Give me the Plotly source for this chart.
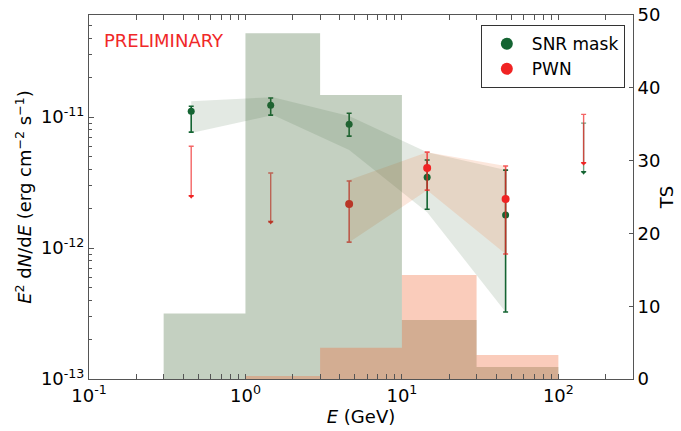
import plotly.graph_objects as go

# ---------------- data ----------------
# SNR mask spectral points
snr_E = [0.45, 1.45, 4.6, 14.5, 46.0]
snr_F = [1.11e-11, 1.235e-11, 8.84e-12, 3.48e-12, 1.79e-12]
snr_Fhi = [1.21e-11, 1.40e-11, 1.07e-11, 4.70e-12, 3.94e-12]
snr_Flo = [7.68e-12, 1.036e-11, 7.16e-12, 1.98e-12, 3.25e-13]
# SNR upper limits
snr_ul_E = [145.0]
snr_ul_top = [9.0e-12]
snr_ul_bot = [3.8e-12]

# PWN spectral points
pwn_E = [4.6, 14.5, 46.0]
pwn_F = [2.17e-12, 4.08e-12, 2.37e-12]
pwn_Fhi = [3.25e-12, 5.40e-12, 4.23e-12]
pwn_Flo = [1.11e-12, 2.77e-12, 9.0e-13]
# PWN upper limits
pwn_ul_E = [0.45, 1.45, 145.0]
pwn_ul_top = [6.0e-12, 3.74e-12, 1.05e-11]
pwn_ul_bot = [2.49e-12, 1.58e-12, 4.45e-12]

# butterflies
snr_band_E = [0.45, 1.5, 4.6, 14.5, 46.0]
snr_band_hi = [1.325e-11, 1.42e-11, 1.02e-11, 5.4e-12, 3.94e-12]
snr_band_lo = [7.55e-12, 1.036e-11, 5.6e-12, 1.88e-12, 3.25e-13]
pwn_band_E = [4.6, 14.5, 46.0]
pwn_band_hi = [3.31e-12, 5.4e-12, 4.23e-12]
pwn_band_lo = [1.11e-12, 2.77e-12, 9.0e-13]

# TS histograms (bin edges in GeV, TS per bin)
snr_ts_edges = [0.3, 1, 3, 10, 30, 100]
snr_ts = [9.0, 47.5, 39.0, 8.1, 1.65]
pwn_ts_edges = [1, 3, 10, 30, 100]
pwn_ts = [0.4, 4.3, 14.3, 3.3]

x_tickvals = [0.1, 1, 10, 100]
x_ticktext = ["10<sup>-1</sup>", "10<sup>0</sup>", "10<sup>1</sup>", "10<sup>2</sup>"]
y_tickvals = [1e-13, 1e-12, 1e-11]
y_ticktext = ["10<sup>-13</sup>", "10<sup>-12</sup>", "10<sup>-11</sup>"]
ts_tickvals = [0, 10, 20, 30, 40, 50]

# ---------------- styles ----------------
GREEN = "rgb(20,100,50)"
RED = "rgb(240,35,35)"
FONT = "DejaVu Sans"
AX = "#555555"

x_minor = [m * 10.0 ** d for d in range(-1, 3) for m in range(2, 10)]
y_minor = [m * 10.0 ** d for d in range(-13, -10) for m in range(2, 10)]


def step_xy(edges, vals):
    xs = list(edges[:-1]) + [edges[-1]]
    ys = list(vals) + [vals[-1]]
    return xs, ys


fig = go.Figure()

# butterflies (primary axis)
fig.add_trace(go.Scatter(
    x=snr_band_E + snr_band_E[::-1], y=snr_band_hi + snr_band_lo[::-1],
    fill="toself", fillcolor="rgba(70,110,70,0.15)", line=dict(width=0),
    mode="lines", showlegend=False, hoverinfo="skip"))
fig.add_trace(go.Scatter(
    x=pwn_band_E + pwn_band_E[::-1], y=pwn_band_hi + pwn_band_lo[::-1],
    fill="toself", fillcolor="rgba(240,120,60,0.18)", line=dict(width=0),
    mode="lines", showlegend=False, hoverinfo="skip"))

# SNR points
fig.add_trace(go.Scatter(
    x=snr_E, y=snr_F, mode="markers", name="SNR mask",
    marker=dict(color=GREEN, size=7),
    error_y=dict(type="data", symmetric=False,
                 array=[h - f for h, f in zip(snr_Fhi, snr_F)],
                 arrayminus=[f - l for f, l in zip(snr_F, snr_Flo)],
                 color=GREEN, thickness=1.6, width=2.5)))
# SNR upper limits
fig.add_trace(go.Scatter(
    x=snr_ul_E, y=snr_ul_bot, mode="markers", showlegend=False,
    marker=dict(color=GREEN, size=5, symbol="triangle-down"),
    error_y=dict(type="data", symmetric=False,
                 array=[t - b for t, b in zip(snr_ul_top, snr_ul_bot)],
                 arrayminus=[0] * len(snr_ul_E),
                 color="rgba(20,100,50,0.6)", thickness=1.4, width=2.5)))

# PWN points
fig.add_trace(go.Scatter(
    x=pwn_E, y=pwn_F, mode="markers", name="PWN",
    marker=dict(color=RED, size=8),
    error_y=dict(type="data", symmetric=False,
                 array=[h - f for h, f in zip(pwn_Fhi, pwn_F)],
                 arrayminus=[f - l for f, l in zip(pwn_F, pwn_Flo)],
                 color="rgba(240,35,35,0.75)", thickness=1.6, width=2.5)))
# PWN upper limits
fig.add_trace(go.Scatter(
    x=pwn_ul_E, y=pwn_ul_bot, mode="markers", showlegend=False,
    marker=dict(color=RED, size=5, symbol="triangle-down"),
    error_y=dict(type="data", symmetric=False,
                 array=[t - b for t, b in zip(pwn_ul_top, pwn_ul_bot)],
                 arrayminus=[0] * len(pwn_ul_E),
                 color="rgba(240,35,35,0.7)", thickness=1.4, width=2.5)))

# TS histograms (secondary axis, drawn on top)
sx, sy = step_xy(snr_ts_edges, snr_ts)
fig.add_trace(go.Scatter(
    x=sx, y=sy, yaxis="y2", mode="lines", line=dict(width=0, shape="hv"),
    fill="tozeroy", fillcolor="rgba(60,100,50,0.30)",
    showlegend=False, hoverinfo="skip"))
px_, py_ = step_xy(pwn_ts_edges, pwn_ts)
fig.add_trace(go.Scatter(
    x=px_, y=py_, yaxis="y2", mode="lines", line=dict(width=0, shape="hv"),
    fill="tozeroy", fillcolor="rgba(240,110,60,0.35)",
    showlegend=False, hoverinfo="skip"))

fig.add_annotation(
    text="PRELIMINARY", xref="paper", yref="paper", x=0.024, y=0.929,
    xanchor="left", yanchor="middle", showarrow=False,
    font=dict(family=FONT, size=18, color="rgb(240,40,40)"))

fig.update_layout(
    width=681, height=431,
    margin=dict(l=89, r=48, t=15, b=52, autoexpand=False),
    paper_bgcolor="white", plot_bgcolor="white",
    font=dict(family=FONT, size=18, color="black"),
    showlegend=True,
    legend=dict(x=0.985, y=0.972, xanchor="right", yanchor="top",
                bordercolor="#333333", borderwidth=1, bgcolor="white",
                font=dict(family=FONT, size=17), tracegroupgap=0,
                itemsizing="constant", itemwidth=40),
    xaxis=dict(
        type="log", range=[-1, 2.477], automargin=False,
        tickvals=x_tickvals, ticktext=x_ticktext,
        ticks="inside", ticklen=5, tickcolor=AX,
        minor=dict(ticks="inside", ticklen=3, tickcolor=AX, showgrid=False,
                   tickmode="array", tickvals=x_minor),
        showline=True, linecolor=AX, linewidth=1, mirror="allticks",
        showgrid=False, zeroline=False,
        title=dict(text="<i>E</i> (GeV)", standoff=0,
                   font=dict(family=FONT, size=18))),
    yaxis=dict(
        type="log", range=[-13, -10.22], automargin=False,
        tickvals=y_tickvals, ticktext=y_ticktext,
        ticks="inside", ticklen=5, tickcolor=AX,
        minor=dict(ticks="inside", ticklen=3, tickcolor=AX, showgrid=False,
                   tickmode="array", tickvals=y_minor),
        showline=True, linecolor=AX, linewidth=1,
        showgrid=False, zeroline=False,
        title=dict(text="<i>E</i><sup>2</sup> d<i>N</i>/d<i>E</i> (erg cm<sup>−2</sup> s<sup>−1</sup>)",
                   standoff=4, font=dict(family=FONT, size=18))),
    yaxis2=dict(
        overlaying="y", side="right", range=[0, 50], automargin=False,
        tickvals=ts_tickvals,
        ticks="inside", ticklen=4, tickcolor=AX,
        showline=True, linecolor=AX, linewidth=1,
        showgrid=False, zeroline=False,
        title=dict(text="TS", standoff=0, font=dict(family=FONT, size=18))),
)

# remove the default 8 px page margin so the figure fills the window exactly
fig.write_html("out.html", config={"displayModeBar": False},
               post_script="document.body.style.margin='0px';")
